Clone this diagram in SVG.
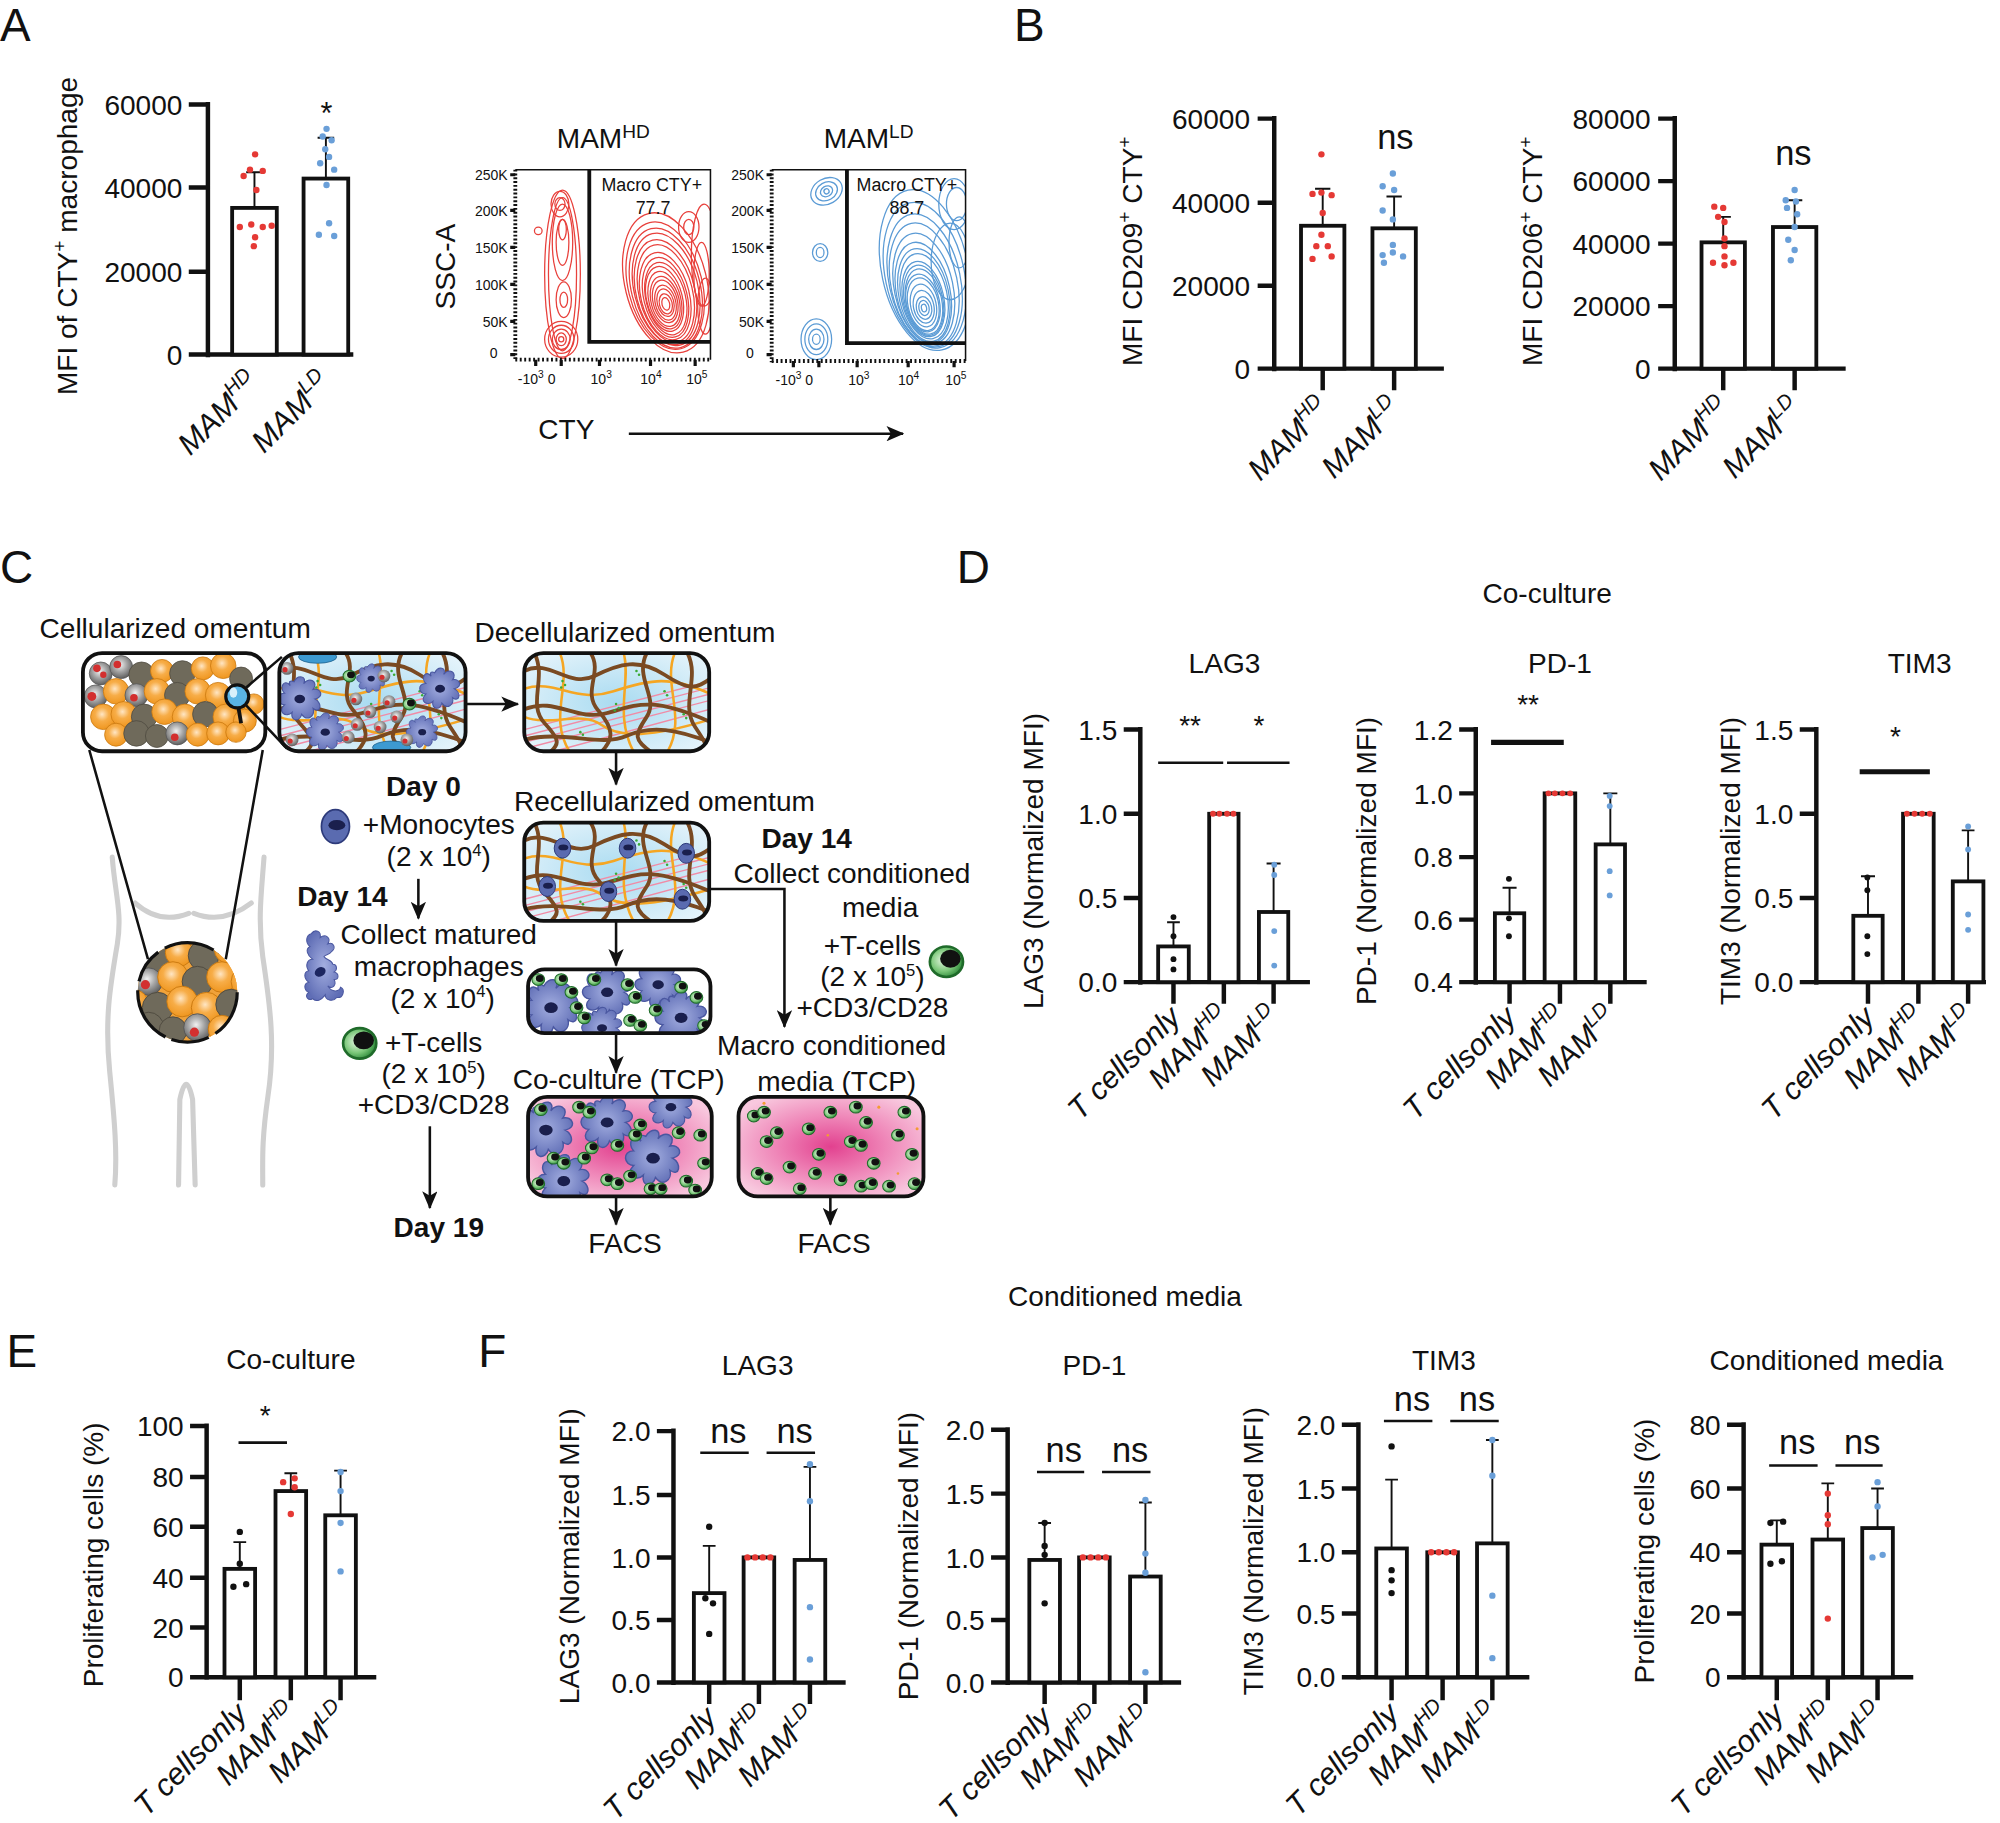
<svg xmlns="http://www.w3.org/2000/svg" width="2000" height="1823" viewBox="0 0 2000 1823">
<style>
.t{font-family:"Liberation Sans",Arial,Helvetica,sans-serif;fill:#111}
.L{font-size:36px}
.n{font-size:22px}
.tk{font-size:22px;text-anchor:end}
.c{text-anchor:middle}
.xl{font-size:24px;font-style:italic;text-anchor:end}
.ns{font-size:27px;text-anchor:middle}
.bd{font-weight:bold}
.fl{font-size:11px;text-anchor:end}
.fx{font-size:11px}
.ax{stroke:#111;stroke-width:3.5;fill:none}
.bar{fill:#fff;stroke:#111;stroke-width:3}
.er{stroke:#111;stroke-width:1.5;fill:none}
.sg{stroke:#111;stroke-width:2}
.sgb{stroke:#111;stroke-width:4}
.r{fill:#e53935}.b{fill:#6a9fd8}.k{fill:#111}
.box{fill:none;stroke:#111;stroke-width:3}
.cn{stroke:#111;stroke-width:2;fill:none}
.rc ellipse,.rc circle{fill:none;stroke:#e8413c;stroke-width:1}
.bc ellipse,.bc circle{fill:none;stroke:#5b9bd5;stroke-width:1}
.body{fill:none;stroke:#cfcfcf;stroke-width:4;stroke-linecap:round}
.fo{fill:url(#gO);stroke:#c9780f;stroke-width:0.6}.fd{fill:#6f6a5b;stroke:#4e4a3f;stroke-width:0.6}.fs{fill:url(#gS);stroke:#555;stroke-width:0.6}
</style>
<defs>
<marker id="ah" markerWidth="14" markerHeight="12" refX="13" refY="6" orient="auto" markerUnits="userSpaceOnUse"><path d="M0,0 L14,6 L0,12 L3.5,6 Z" fill="#111"/></marker>
<radialGradient id="gO" cx="45%" cy="40%" r="60%"><stop offset="0" stop-color="#ffe6c4"/><stop offset="0.45" stop-color="#f7ad48"/><stop offset="1" stop-color="#ef961f"/></radialGradient>
<radialGradient id="gS" cx="45%" cy="40%" r="60%"><stop offset="0" stop-color="#f2f2f2"/><stop offset="0.5" stop-color="#a5a5a5"/><stop offset="1" stop-color="#5f5f5f"/></radialGradient>
<radialGradient id="gG" cx="40%" cy="45%" r="60%"><stop offset="0" stop-color="#e4f5e0"/><stop offset="0.6" stop-color="#7cc87a"/><stop offset="1" stop-color="#2e8b3a"/></radialGradient>
<radialGradient id="gB" cx="50%" cy="50%" r="65%"><stop offset="0" stop-color="#a9dbf1"/><stop offset="1" stop-color="#e6f4fb"/></radialGradient>
<radialGradient id="gP" cx="50%" cy="50%" r="60%"><stop offset="0" stop-color="#e2418f"/><stop offset="0.5" stop-color="#ef86b8"/><stop offset="1" stop-color="#f8c8de"/></radialGradient>
<radialGradient id="gM" cx="50%" cy="50%" r="55%"><stop offset="0" stop-color="#a3aee0"/><stop offset="1" stop-color="#5f6db5"/></radialGradient>
<g id="tc"><ellipse rx="5" ry="4.6" fill="url(#gG)" stroke="#1f6b2a" stroke-width="0.8"/><ellipse cx="1.2" cy="-0.9" rx="3.1" ry="2.7" fill="#111"/></g>
<g id="mono"><ellipse rx="5" ry="6" fill="#5a6bb0" stroke="#2d3a7a" stroke-width="0.6"/><ellipse cx="0.5" cy="-0.5" rx="3" ry="1.8" fill="#1a1f4d"/></g>
<g id="mac"><path d="M-3,-9 C-1,-13 4,-12 2,-8 C5,-12 10,-9 7,-5 C11,-6 13,-1 8,0 C12,2 11,8 7,5 C8,9 4,12 1,8 C0,12 -5,12 -4,7 C-7,10 -12,7 -8,3 C-12,3 -13,-3 -8,-3 C-11,-6 -8,-11 -5,-7 C-6,-9 -5,-10 -3,-9 Z" fill="url(#gM)" stroke="#4a57a0" stroke-width="0.6"/><ellipse rx="2.8" ry="2.2" fill="#1a1f4d"/></g>
<g id="rcell"><circle r="5" fill="url(#gS)"/><circle cx="-1.5" cy="1" r="2" fill="#d32f2f"/></g>
<g id="fat">
<circle cx="14" cy="16" r="9" class="fs"/><circle cx="30" cy="11" r="9" class="fs"/><circle cx="46" cy="17" r="10" class="fd"/><circle cx="62" cy="14" r="9" class="fo"/><circle cx="78" cy="16" r="10" class="fd"/><circle cx="94" cy="12" r="9" class="fo"/><circle cx="110" cy="10" r="10" class="fo"/><circle cx="124" cy="20" r="9" class="fd"/>
<circle cx="10" cy="34" r="9" class="fs"/><circle cx="26" cy="30" r="10" class="fo"/><circle cx="42" cy="33" r="9" class="fs"/><circle cx="58" cy="30" r="10" class="fo"/><circle cx="74" cy="33" r="10" class="fd"/><circle cx="90" cy="30" r="10" class="fo"/><circle cx="106" cy="33" r="10" class="fo"/><circle cx="122" cy="36" r="9" class="fo"/><circle cx="134" cy="40" r="8" class="fo"/>
<circle cx="16" cy="50" r="10" class="fo"/><circle cx="32" cy="48" r="10" class="fo"/><circle cx="48" cy="50" r="10" class="fd"/><circle cx="64" cy="46" r="10" class="fo"/><circle cx="80" cy="50" r="10" class="fo"/><circle cx="96" cy="48" r="10" class="fd"/><circle cx="112" cy="50" r="10" class="fo"/><circle cx="127" cy="53" r="9" class="fo"/>
<circle cx="26" cy="64" r="9" class="fo"/><circle cx="42" cy="63" r="10" class="fd"/><circle cx="58" cy="65" r="9" class="fd"/><circle cx="74" cy="63" r="9" class="fs"/><circle cx="90" cy="64" r="9" class="fo"/><circle cx="106" cy="63" r="9" class="fo"/><circle cx="120" cy="62" r="8" class="fo"/>
<g fill="#d32f2f"><circle cx="11" cy="12" r="3"/><circle cx="27" cy="9" r="3"/><circle cx="7" cy="34" r="3.5"/><circle cx="40" cy="35" r="3"/><circle cx="72" cy="66" r="3"/><circle cx="16" cy="17" r="2.5"/></g>
</g>
<g id="ecm">
<rect width="146" height="78" fill="url(#gB)"/>
<path d="M0,60 L146,22 M0,65 L146,27 M0,70 L146,32 M0,75 L146,37 M20,78 L146,44" stroke="#f08ca6" stroke-width="1.1" fill="none"/>
<g stroke="#f5a623" stroke-width="2" fill="none">
<path d="M0,28 C25,20 40,40 70,30 S115,18 146,32"/><path d="M28,0 C38,25 18,50 36,78"/><path d="M78,0 C84,22 70,48 86,78"/><path d="M118,0 C108,25 128,50 112,78"/><path d="M0,50 C20,58 45,45 60,56 S100,66 146,52"/>
</g>
<g stroke="#7a4a22" stroke-width="3" fill="none" stroke-linecap="round">
<path d="M0,14 C20,4 35,28 55,18 S90,4 110,17 S135,28 146,20"/><path d="M8,0 C18,20 2,40 16,55 S26,72 20,78"/><path d="M52,0 C62,15 45,30 58,45 S70,68 60,78"/><path d="M96,0 C86,20 106,35 96,50 S86,68 100,78"/><path d="M128,0 C138,20 122,40 134,58 S142,70 136,78"/><path d="M0,44 C25,34 40,54 65,47 S100,34 146,54"/><path d="M0,68 C30,60 60,74 80,65 S120,60 146,70"/>
</g>
<g fill="#3aaa35"><circle cx="30" cy="22" r="1"/><circle cx="32" cy="25" r="1"/><circle cx="29" cy="27" r="1"/><circle cx="72" cy="40" r="1"/><circle cx="74" cy="43" r="1"/><circle cx="71" cy="45" r="1"/><circle cx="110" cy="30" r="1"/><circle cx="112" cy="33" r="1"/><circle cx="44" cy="62" r="1"/><circle cx="46" cy="64" r="1"/><circle cx="125" cy="48" r="1"/><circle cx="127" cy="51" r="1"/><circle cx="88" cy="14" r="1"/><circle cx="90" cy="17" r="1"/></g>
</g>
<clipPath id="cpF1"><rect x="404" y="133" width="153" height="149"/></clipPath>
<clipPath id="cpF2"><rect x="605" y="133" width="152" height="150"/></clipPath>
<clipPath id="cpOm"><rect x="65" y="512" width="143" height="77" rx="15"/></clipPath>
<clipPath id="cpBody"><circle cx="147" cy="778" r="39"/></clipPath>
<clipPath id="cpDet"><rect x="219" y="512" width="146" height="77" rx="15"/></clipPath>
<clipPath id="cpDec"><rect x="411" y="512" width="145" height="77" rx="15"/></clipPath>
<clipPath id="cpRec"><rect x="411" y="645" width="145" height="77" rx="15"/></clipPath>
<clipPath id="cpMT"><rect x="414" y="760" width="143" height="50" rx="13"/></clipPath>
<clipPath id="cpCo"><rect x="414" y="860" width="144" height="78" rx="15"/></clipPath>
<clipPath id="cpCM"><rect x="579" y="860" width="145" height="78" rx="15"/></clipPath>
</defs>
<rect width="2000" height="1823" fill="#fff"/>
<g transform="scale(1.27551)">

<!-- PANEL A -->
<g id="panelA">
<text class="t L" x="0" y="32">A</text>
<g id="A-bar">
<text class="t n c" transform="translate(60,185) rotate(-90)">MFI of CTY<tspan font-size="15" dy="-8">+</tspan><tspan dy="8"> macrophage</tspan></text>
<path class="ax" d="M163,80 V280 M148,82 H163 M148,147 H163 M148,213 H163 M148,278 H163 M161,278 H277"/>
<text class="t tk" x="143" y="90">60000</text><text class="t tk" x="143" y="155">40000</text><text class="t tk" x="143" y="221">20000</text><text class="t tk" x="143" y="286">0</text>
<rect class="bar" x="182" y="163" width="35" height="115"/><rect class="bar" x="238" y="140" width="35" height="138"/>
<path class="er" d="M199.5,163 V135 M193,135 H206 M255.5,140 V108 M249,108 H262"/>
<text class="t c" x="256" y="97" font-size="24">*</text>
<g class="r"><circle cx="200" cy="121" r="2.5"/><circle cx="196" cy="133" r="2.5"/><circle cx="206" cy="134" r="2.5"/><circle cx="191" cy="138" r="2.5"/><circle cx="201" cy="149" r="2.5"/><circle cx="188" cy="178" r="2.5"/><circle cx="197" cy="176" r="2.5"/><circle cx="206" cy="178" r="2.5"/><circle cx="213" cy="177" r="2.5"/><circle cx="200" cy="186" r="2.5"/><circle cx="199" cy="193" r="2.5"/></g>
<g class="b"><circle cx="256" cy="101" r="2.5"/><circle cx="253" cy="107" r="2.5"/><circle cx="260" cy="110" r="2.5"/><circle cx="255" cy="117" r="2.5"/><circle cx="258" cy="123" r="2.5"/><circle cx="251" cy="128" r="2.5"/><circle cx="262" cy="133" r="2.5"/><circle cx="256" cy="145" r="2.5"/><circle cx="258" cy="175" r="2.5"/><circle cx="250" cy="184" r="2.5"/><circle cx="262" cy="185" r="2.5"/></g>
<text class="t xl" transform="translate(205,302) rotate(-45)">MAM<tspan font-size="16" dy="-10">HD</tspan></text>
<text class="t xl" transform="translate(261,302) rotate(-45)">MAM<tspan font-size="16" dy="-10">LD</tspan></text>
</g>
<g id="A-flow-HD">
<text class="t c" x="473" y="116" font-size="22">MAM<tspan font-size="15" dy="-8">HD</tspan></text>
<g clip-path="url(#cpF1)">
<g class="rc">
<ellipse cx="441" cy="215" rx="14" ry="66"/><ellipse cx="441" cy="215" rx="11" ry="60"/><ellipse cx="441" cy="190" rx="8" ry="30"/><ellipse cx="441" cy="190" rx="5" ry="18"/><ellipse cx="441" cy="180" rx="3" ry="8"/><ellipse cx="442" cy="235" rx="6" ry="14"/><ellipse cx="442" cy="235" rx="3" ry="6"/><ellipse cx="440" cy="266" rx="13" ry="14"/><ellipse cx="440" cy="266" rx="10" ry="11"/><ellipse cx="440" cy="266" rx="7" ry="8"/><ellipse cx="440" cy="266" rx="4" ry="5"/><ellipse cx="440" cy="266" rx="2" ry="2"/><ellipse cx="439" cy="160" rx="7" ry="10"/><ellipse cx="439" cy="160" rx="4" ry="5"/><circle cx="422" cy="181" r="3"/>
<g transform="rotate(-14 522 230)">
<ellipse cx="524" cy="222" rx="32" ry="56"/><ellipse cx="523" cy="224" rx="29" ry="51"/><ellipse cx="523" cy="226" rx="27" ry="48"/><ellipse cx="523" cy="227" rx="25" ry="45"/><ellipse cx="522" cy="229" rx="23" ry="42"/><ellipse cx="522" cy="230" rx="21" ry="39"/><ellipse cx="521" cy="232" rx="19" ry="35"/><ellipse cx="521" cy="233" rx="17" ry="32"/><ellipse cx="521" cy="234" rx="15.5" ry="29"/><ellipse cx="520" cy="234" rx="14" ry="26"/><ellipse cx="520" cy="235" rx="12.5" ry="23"/><ellipse cx="520" cy="236" rx="11" ry="20"/><ellipse cx="520" cy="236" rx="9.5" ry="17"/><ellipse cx="520" cy="237" rx="8" ry="14"/><ellipse cx="520" cy="237" rx="6.5" ry="11"/><ellipse cx="520" cy="238" rx="5" ry="8"/><ellipse cx="520" cy="238" rx="3" ry="5"/>
</g>
<ellipse cx="552" cy="200" rx="10" ry="40"/><ellipse cx="550" cy="215" rx="6" ry="25"/><ellipse cx="540" cy="178" rx="8" ry="12"/><ellipse cx="540" cy="178" rx="4" ry="6"/><ellipse cx="553" cy="240" rx="6" ry="22"/>
</g>
</g>
<path d="M404,133 H557 V282" stroke="#111" stroke-width="1.2" fill="none"/>
<line x1="404" y1="133" x2="404" y2="283" stroke="#111" stroke-width="3" stroke-dasharray="1.5 1.5"/>
<line x1="404" y1="282" x2="557" y2="282" stroke="#111" stroke-width="3" stroke-dasharray="1.5 2"/>
<path d="M400,137 H404 M400,165 H404 M400,194 H404 M400,223 H404 M400,252 H404 M400,278 H404 M420,282 V287 M440,282 V287 M470,282 V287 M510,282 V287 M545,282 V287" stroke="#111" stroke-width="2.5"/>
<path d="M462,133 V268 H557" stroke="#111" stroke-width="3" fill="none"/>
<text class="t fl" x="398" y="141">250K</text><text class="t fl" x="398" y="169">200K</text><text class="t fl" x="398" y="198">150K</text><text class="t fl" x="398" y="227">100K</text><text class="t fl" x="398" y="256">50K</text><text class="t fl" x="390" y="281">0</text>
<text class="t fx" x="406" y="301">-10<tspan font-size="8" dy="-5">3</tspan><tspan dy="5"> 0</tspan></text>
<text class="t fx" x="463" y="301">10<tspan font-size="8" dy="-5">3</tspan></text>
<text class="t fx" x="502" y="301">10<tspan font-size="8" dy="-5">4</tspan></text>
<text class="t fx" x="538" y="301">10<tspan font-size="8" dy="-5">5</tspan></text>
<text class="t c" x="511" y="150" font-size="14">Macro CTY+</text>
<text class="t c" x="512" y="168" font-size="14">77.7</text>
</g>
<g id="A-flow-LD">
<text class="t c" x="681" y="116" font-size="22">MAM<tspan font-size="15" dy="-8">LD</tspan></text>
<g clip-path="url(#cpF2)">
<g class="bc">
<g transform="rotate(-30 648 150)"><ellipse cx="648" cy="150" rx="13" ry="10"/><ellipse cx="648" cy="150" rx="9" ry="7"/><ellipse cx="648" cy="150" rx="5" ry="4"/><ellipse cx="648" cy="150" rx="2" ry="2"/></g>
<ellipse cx="643" cy="198" rx="6" ry="7"/><ellipse cx="643" cy="198" rx="3" ry="4"/>
<ellipse cx="640" cy="266" rx="12" ry="16"/><ellipse cx="640" cy="266" rx="9" ry="12"/><ellipse cx="640" cy="266" rx="6" ry="8"/><ellipse cx="640" cy="266" rx="3" ry="4"/>
<g transform="rotate(-12 725 225)">
<ellipse cx="728" cy="212" rx="34" ry="64"/><ellipse cx="727" cy="216" rx="31" ry="58"/><ellipse cx="726" cy="220" rx="28" ry="53"/><ellipse cx="725" cy="223" rx="26" ry="49"/><ellipse cx="724" cy="226" rx="23" ry="44"/><ellipse cx="723" cy="229" rx="21" ry="40"/><ellipse cx="723" cy="231" rx="19.5" ry="37"/><ellipse cx="723" cy="232" rx="18" ry="34"/><ellipse cx="722" cy="234" rx="16" ry="30"/><ellipse cx="722" cy="235" rx="15" ry="28"/><ellipse cx="722" cy="236" rx="14" ry="26"/><ellipse cx="721" cy="237" rx="13" ry="23"/><ellipse cx="721" cy="238" rx="12" ry="21"/><ellipse cx="721" cy="239" rx="10" ry="17"/><ellipse cx="721" cy="240" rx="8" ry="13"/><ellipse cx="721" cy="241" rx="6" ry="9"/><ellipse cx="721" cy="241" rx="4" ry="6"/><ellipse cx="721" cy="241" rx="2" ry="3"/>
</g>
<ellipse cx="748" cy="160" rx="12" ry="20"/><ellipse cx="750" cy="160" rx="8" ry="13"/><ellipse cx="752" cy="190" rx="8" ry="20"/><ellipse cx="745" cy="205" rx="15" ry="30"/>
</g>
</g>
<path d="M605,133 H757 V283" stroke="#111" stroke-width="1.2" fill="none"/>
<line x1="605" y1="133" x2="605" y2="284" stroke="#111" stroke-width="3" stroke-dasharray="1.5 1.5"/>
<line x1="605" y1="283" x2="757" y2="283" stroke="#111" stroke-width="3" stroke-dasharray="1.5 2"/>
<path d="M601,137 H605 M601,165 H605 M601,194 H605 M601,223 H605 M601,252 H605 M601,278 H605 M622,283 V288 M642,283 V288 M672,283 V288 M712,283 V288 M748,283 V288" stroke="#111" stroke-width="2.5"/>
<path d="M664,133 V269 H757" stroke="#111" stroke-width="3" fill="none"/>
<text class="t fl" x="599" y="141">250K</text><text class="t fl" x="599" y="169">200K</text><text class="t fl" x="599" y="198">150K</text><text class="t fl" x="599" y="227">100K</text><text class="t fl" x="599" y="256">50K</text><text class="t fl" x="591" y="281">0</text>
<text class="t fx" x="608" y="302">-10<tspan font-size="8" dy="-5">3</tspan><tspan dy="5"> 0</tspan></text>
<text class="t fx" x="665" y="302">10<tspan font-size="8" dy="-5">3</tspan></text>
<text class="t fx" x="704" y="302">10<tspan font-size="8" dy="-5">4</tspan></text>
<text class="t fx" x="741" y="302">10<tspan font-size="8" dy="-5">5</tspan></text>
<text class="t c" x="711" y="150" font-size="14">Macro CTY+</text>
<text class="t c" x="711" y="168" font-size="14">88.7</text>
</g>
<text class="t c" transform="translate(357,209) rotate(-90)" font-size="22">SSC-A</text>
<text class="t" x="422" y="344" font-size="22">CTY</text>
<line class="cn" x1="493" y1="340" x2="708" y2="340" marker-end="url(#ah)"/>
</g>

<!-- PANEL B -->
<g id="panelB">
<text class="t L" x="795" y="32">B</text>
<g id="B-CD209">
<text class="t n c" transform="translate(895,197) rotate(-90)">MFI CD209<tspan font-size="15" dy="-8">+</tspan><tspan dy="8"> CTY</tspan><tspan font-size="15" dy="-8">+</tspan></text>
<path class="ax" d="M999,91 V291 M986,93 H999 M986,159 H999 M986,224 H999 M986,289 H999 M997,289 H1132 M1037,289 V306 M1093,289 V306"/>
<text class="t tk" x="980" y="101">60000</text><text class="t tk" x="980" y="167">40000</text><text class="t tk" x="980" y="232">20000</text><text class="t tk" x="980" y="297">0</text>
<rect class="bar" x="1020" y="177" width="34" height="112"/><rect class="bar" x="1076" y="179" width="34" height="110"/>
<path class="er" d="M1037,177 V148 M1031,148 H1043 M1093,179 V154 M1087,154 H1099"/>
<text class="t ns" x="1094" y="117">ns</text>
<g class="r"><circle cx="1036" cy="121" r="2.5"/><circle cx="1029" cy="152" r="2.5"/><circle cx="1036" cy="151" r="2.5"/><circle cx="1044" cy="153" r="2.5"/><circle cx="1037" cy="167" r="2.5"/><circle cx="1036" cy="184" r="2.5"/><circle cx="1032" cy="193" r="2.5"/><circle cx="1041" cy="193" r="2.5"/><circle cx="1029" cy="203" r="2.5"/><circle cx="1044" cy="201" r="2.5"/></g>
<g class="b"><circle cx="1092" cy="136" r="2.5"/><circle cx="1084" cy="146" r="2.5"/><circle cx="1093" cy="149" r="2.5"/><circle cx="1084" cy="165" r="2.5"/><circle cx="1092" cy="172" r="2.5"/><circle cx="1092" cy="192" r="2.5"/><circle cx="1084" cy="200" r="2.5"/><circle cx="1092" cy="198" r="2.5"/><circle cx="1100" cy="201" r="2.5"/><circle cx="1085" cy="206" r="2.5"/></g>
<text class="t xl" transform="translate(1044,322) rotate(-45)">MAM<tspan font-size="16" dy="-10">HD</tspan></text>
<text class="t xl" transform="translate(1100,322) rotate(-45)">MAM<tspan font-size="16" dy="-10">LD</tspan></text>
</g>
<g id="B-CD206">
<text class="t n c" transform="translate(1209,197) rotate(-90)">MFI CD206<tspan font-size="15" dy="-8">+</tspan><tspan dy="8"> CTY</tspan><tspan font-size="15" dy="-8">+</tspan></text>
<path class="ax" d="M1313,91 V291 M1300,93 H1313 M1300,142 H1313 M1300,191 H1313 M1300,240 H1313 M1300,289 H1313 M1311,289 H1447 M1351,289 V306 M1407,289 V306"/>
<text class="t tk" x="1294" y="101">80000</text><text class="t tk" x="1294" y="150">60000</text><text class="t tk" x="1294" y="199">40000</text><text class="t tk" x="1294" y="248">20000</text><text class="t tk" x="1294" y="297">0</text>
<rect class="bar" x="1334" y="190" width="34" height="99"/><rect class="bar" x="1390" y="178" width="34" height="111"/>
<path class="er" d="M1351,190 V170 M1345,170 H1357 M1407,178 V157 M1401,157 H1413"/>
<text class="t ns" x="1406" y="129">ns</text>
<g class="r"><circle cx="1344" cy="162" r="2.5"/><circle cx="1351" cy="163" r="2.5"/><circle cx="1347" cy="170" r="2.5"/><circle cx="1352" cy="174" r="2.5"/><circle cx="1352" cy="187" r="2.5"/><circle cx="1352" cy="193" r="2.5"/><circle cx="1352" cy="201" r="2.5"/><circle cx="1343" cy="206" r="2.5"/><circle cx="1352" cy="208" r="2.5"/><circle cx="1359" cy="206" r="2.5"/></g>
<g class="b"><circle cx="1407" cy="149" r="2.5"/><circle cx="1400" cy="157" r="2.5"/><circle cx="1408" cy="158" r="2.5"/><circle cx="1401" cy="163" r="2.5"/><circle cx="1409" cy="168" r="2.5"/><circle cx="1407" cy="178" r="2.5"/><circle cx="1402" cy="188" r="2.5"/><circle cx="1407" cy="196" r="2.5"/><circle cx="1404" cy="204" r="2.5"/></g>
<text class="t xl" transform="translate(1358,322) rotate(-45)">MAM<tspan font-size="16" dy="-10">HD</tspan></text>
<text class="t xl" transform="translate(1414,322) rotate(-45)">MAM<tspan font-size="16" dy="-10">LD</tspan></text>
</g>
</g>

<!-- PANEL C -->
<g id="panelC">
<text class="t L" x="0" y="457">C</text>
<g id="C-body">
<path class="body" d="M88,672 C90,700 96,715 92,740 C86,775 82,800 86,840 C90,880 92,905 90,929"/>
<path class="body" d="M207,672 C205,700 202,720 206,750 C212,790 216,820 210,860 C205,895 206,910 206,929"/>
<path class="body" d="M106,708 Q125,725 148,716 M152,716 Q175,725 197,708"/>
<path class="body" d="M140,929 L141,862 Q146,838 151,862 L153,929"/>
<g clip-path="url(#cpBody)"><rect x="100" y="730" width="95" height="95" fill="#f0a23a"/><use href="#fat" transform="translate(66,730) scale(1.2)"/></g>
<circle cx="147" cy="778" r="39" fill="none" stroke="#111" stroke-width="2.5" stroke-dasharray="38 6 30 5 45 7 28 6 40 40"/>
<path d="M70,588 L116,752 M206,588 L177,752" stroke="#111" stroke-width="2" fill="none"/>
</g>
<g id="C-omentum">
<text class="t n" x="31" y="500">Cellularized omentum</text>
<rect x="65" y="512" width="143" height="77" rx="15" fill="#fff"/>
<g clip-path="url(#cpOm)"><use href="#fat" transform="translate(65,512)"/></g>
<rect class="box" x="65" y="512" width="143" height="77" rx="15"/>
<path d="M193,539 L221,515 M193,553 L225,587" stroke="#111" stroke-width="2" fill="none"/>
<line x1="187" y1="555" x2="189" y2="567" stroke="#111" stroke-width="3"/>
<circle cx="186" cy="546" r="9" fill="#5ab4e5" stroke="#111" stroke-width="2.5"/>
<ellipse cx="183" cy="543" rx="3" ry="4" fill="#d9f0fb"/>
</g>
<g id="C-detail">
<g clip-path="url(#cpDet)"><g transform="translate(219,512)">
<use href="#ecm"/>
<ellipse cx="30" cy="3" rx="15" ry="5" fill="#3d9ad1" stroke="#1d5f8a" stroke-width="0.6"/>
<ellipse cx="88" cy="74" rx="15" ry="5" fill="#3d9ad1" stroke="#1d5f8a" stroke-width="0.6"/>
<use href="#mac" transform="translate(16,36) scale(1.5)"/><use href="#mac" transform="translate(36,62) scale(1.3)"/><use href="#mac" transform="translate(72,20) scale(1)"/><use href="#mac" transform="translate(126,28) scale(1.4)"/><use href="#mac" transform="translate(112,62) scale(1.1)"/>
<use href="#rcell" transform="translate(60,36)"/><use href="#rcell" transform="translate(71,46)"/><use href="#rcell" transform="translate(61,56)"/><use href="#rcell" transform="translate(79,58)"/><use href="#rcell" transform="translate(86,38)"/><use href="#rcell" transform="translate(54,66)"/><use href="#rcell" transform="translate(92,50)"/><use href="#rcell" transform="translate(100,68)"/><use href="#rcell" transform="translate(10,68)"/><use href="#rcell" transform="translate(82,18)"/><use href="#rcell" transform="translate(6,12)"/>
<use href="#tc" transform="translate(55,18)"/><use href="#tc" transform="translate(102,40)"/>
</g></g>
<rect class="box" x="219" y="512" width="146" height="77" rx="15"/>
</g>
<g id="C-decell">
<text class="t n" x="372" y="503">Decellularized omentum</text>
<g clip-path="url(#cpDec)"><use href="#ecm" transform="translate(411,512)"/></g>
<rect class="box" x="411" y="512" width="145" height="77" rx="15"/>
</g>
<g id="C-recell">
<text class="t n" x="403" y="636">Recellularized omentum</text>
<g clip-path="url(#cpRec)"><g transform="translate(411,645)">
<use href="#ecm"/>
<use href="#mono" transform="translate(30,20) scale(1.3)"/><use href="#mono" transform="translate(81,20) scale(1.3)"/><use href="#mono" transform="translate(127,24) scale(1.3)"/><use href="#mono" transform="translate(18,50) scale(1.3)"/><use href="#mono" transform="translate(66,54) scale(1.3)"/><use href="#mono" transform="translate(124,60) scale(1.3)"/>
</g></g>
<rect class="box" x="411" y="645" width="145" height="77" rx="15"/>
</g>
<g id="C-macT">
<g clip-path="url(#cpMT)"><g transform="translate(414,760)">
<rect width="143" height="50" fill="#fff"/>
<use href="#mac" transform="translate(18,30) scale(1.9)"/><use href="#mac" transform="translate(62,18) scale(1.7)"/><use href="#mac" transform="translate(102,12) scale(1.6)"/><use href="#mac" transform="translate(120,38) scale(1.8)"/><use href="#mac" transform="translate(58,46) scale(1.4)"/>
<use href="#tc" transform="translate(8,8)"/><use href="#tc" transform="translate(38,30)"/><use href="#tc" transform="translate(44,38)"/><use href="#tc" transform="translate(52,8)"/><use href="#tc" transform="translate(78,12)"/><use href="#tc" transform="translate(84,22)"/><use href="#tc" transform="translate(80,40)"/><use href="#tc" transform="translate(88,44)"/><use href="#tc" transform="translate(120,14)"/><use href="#tc" transform="translate(132,22)"/><use href="#tc" transform="translate(100,32)"/><use href="#tc" transform="translate(138,44)"/><use href="#tc" transform="translate(26,8)"/><use href="#tc" transform="translate(34,18)"/>
</g></g>
<rect class="box" x="414" y="760" width="143" height="50" rx="13"/>
</g>
<g id="C-coculture">
<text class="t n c" x="485" y="854">Co-culture (TCP)</text>
<g clip-path="url(#cpCo)"><g transform="translate(414,860)">
<rect width="144" height="78" fill="url(#gP)"/>
<use href="#mac" transform="translate(14,26) scale(1.9)"/><use href="#mac" transform="translate(62,20) scale(1.8)"/><use href="#mac" transform="translate(28,66) scale(1.8)"/><use href="#mac" transform="translate(98,48) scale(1.9)"/><use href="#mac" transform="translate(112,8) scale(1.5)"/>
<use href="#tc" transform="translate(10,10)"/><use href="#tc" transform="translate(20,48)"/><use href="#tc" transform="translate(28,52)"/><use href="#tc" transform="translate(50,40)"/><use href="#tc" transform="translate(44,48)"/><use href="#tc" transform="translate(70,38)"/><use href="#tc" transform="translate(62,65)"/><use href="#tc" transform="translate(70,68)"/><use href="#tc" transform="translate(88,22)"/><use href="#tc" transform="translate(84,30)"/><use href="#tc" transform="translate(80,62)"/><use href="#tc" transform="translate(118,28)"/><use href="#tc" transform="translate(135,30)"/><use href="#tc" transform="translate(138,52)"/><use href="#tc" transform="translate(40,8)"/><use href="#tc" transform="translate(48,12)"/><use href="#tc" transform="translate(96,72)"/><use href="#tc" transform="translate(104,72)"/><use href="#tc" transform="translate(131,73)"/><use href="#tc" transform="translate(124,66)"/><use href="#tc" transform="translate(8,68)"/>
</g></g>
<rect class="box" x="414" y="860" width="144" height="78" rx="15"/>
<text class="t n c" x="490" y="982">FACS</text>
</g>
<g id="C-condmedia">
<text class="t n c" x="652" y="827">Macro conditioned</text>
<text class="t n c" x="656" y="855">media (TCP)</text>
<g clip-path="url(#cpCM)"><g transform="translate(579,860)">
<rect width="145" height="78" fill="url(#gP)"/>
<g fill="#f39c33"><circle cx="20" cy="5" r="1.2"/><circle cx="110" cy="8" r="1.2"/><circle cx="140" cy="25" r="1.2"/><circle cx="70" cy="30" r="1"/><circle cx="125" cy="60" r="1"/></g>
<use href="#tc" transform="translate(12,15)"/><use href="#tc" transform="translate(20,12)"/><use href="#tc" transform="translate(22,35)"/><use href="#tc" transform="translate(40,55)"/><use href="#tc" transform="translate(15,60)"/><use href="#tc" transform="translate(22,64)"/><use href="#tc" transform="translate(55,25)"/><use href="#tc" transform="translate(63,45)"/><use href="#tc" transform="translate(72,12)"/><use href="#tc" transform="translate(80,65)"/><use href="#tc" transform="translate(88,35)"/><use href="#tc" transform="translate(96,38)"/><use href="#tc" transform="translate(100,20)"/><use href="#tc" transform="translate(106,52)"/><use href="#tc" transform="translate(118,70)"/><use href="#tc" transform="translate(125,30)"/><use href="#tc" transform="translate(136,45)"/><use href="#tc" transform="translate(130,12)"/><use href="#tc" transform="translate(48,72)"/><use href="#tc" transform="translate(92,8)"/><use href="#tc" transform="translate(138,68)"/><use href="#tc" transform="translate(60,60)"/><use href="#tc" transform="translate(30,28)"/><use href="#tc" transform="translate(96,70)"/><use href="#tc" transform="translate(104,68)"/>
</g></g>
<rect class="box" x="579" y="860" width="145" height="78" rx="15"/>
<text class="t n c" x="654" y="982">FACS</text>
</g>
<g id="C-steps-left">
<text class="t n bd c" x="332" y="624">Day 0</text>
<use href="#mono" transform="translate(263,648) scale(2.2)"/>
<text class="t n c" x="344" y="654">+Monocytes</text>
<text class="t n c" x="344" y="679">(2 x 10<tspan font-size="13" dy="-8">4</tspan><tspan dy="8">)</tspan></text>
<text class="t n bd" x="233" y="710">Day 14</text>
<g transform="translate(252,760)">
<path d="M-8,-28 C-5,-32 0,-30 -1,-25 C3,-28 8,-25 5,-20 C9,-22 12,-17 8,-14 C6,-11 3,-12 2,-10 C4,-7 8,-8 9,-4 C12,-4 13,0 10,2 C14,3 14,8 10,8 C12,12 9,16 5,13 C8,18 14,18 15,14 C19,16 17,23 12,22 C9,26 3,24 3,20 C0,24 -4,26 -7,23 C-10,25 -14,21 -10,18 C-14,16 -14,11 -10,10 C-14,7 -14,2 -10,1 C-13,-3 -11,-8 -7,-8 C-11,-11 -13,-16 -9,-18 C-13,-21 -12,-27 -8,-28 Z" fill="url(#gM)" stroke="#4a57a0" stroke-width="0.8"/>
<ellipse cx="-1" cy="2" rx="4.5" ry="3.5" fill="#1d2660" transform="rotate(-30 -1 2)"/>
</g>
<text class="t n c" x="344" y="740">Collect matured</text>
<text class="t n c" x="344" y="765">macrophages</text>
<text class="t n c" x="347" y="790">(2 x 10<tspan font-size="13" dy="-8">4</tspan><tspan dy="8">)</tspan></text>
<use href="#tc" transform="translate(282,818) scale(2.6)"/>
<text class="t n c" x="340" y="825">+T-cells</text>
<text class="t n c" x="340" y="849">(2 x 10<tspan font-size="13" dy="-8">5</tspan><tspan dy="8">)</tspan></text>
<text class="t n c" x="340" y="873">+CD3/CD28</text>
<text class="t n bd c" x="344" y="970">Day 19</text>
</g>
<g id="C-steps-right">
<text class="t n bd" x="597" y="665">Day 14</text>
<text class="t n" x="575" y="692">Collect conditioned</text>
<text class="t n c" x="690" y="719">media</text>
<text class="t n c" x="684" y="749">+T-cells</text>
<text class="t n c" x="684" y="773">(2 x 10<tspan font-size="13" dy="-8">5</tspan><tspan dy="8">)</tspan></text>
<text class="t n c" x="684" y="797">+CD3/CD28</text>
<use href="#tc" transform="translate(742,754) scale(2.6)"/>
</g>
<g id="C-connectors">
<line class="cn" x1="365" y1="552" x2="406" y2="552" marker-end="url(#ah)"/>
<line class="cn" x1="483" y1="589" x2="483" y2="615" marker-end="url(#ah)"/>
<line class="cn" x1="483" y1="722" x2="483" y2="757" marker-end="url(#ah)"/>
<line class="cn" x1="483" y1="810" x2="483" y2="841" marker-end="url(#ah)"/>
<line class="cn" x1="483" y1="938" x2="483" y2="960" marker-end="url(#ah)"/>
<line class="cn" x1="651" y1="938" x2="651" y2="960" marker-end="url(#ah)"/>
<polyline class="cn" points="556,697 615,697 615,805" marker-end="url(#ah)"/>
<line class="cn" x1="328" y1="689" x2="328" y2="720" marker-end="url(#ah)"/>
<line class="cn" x1="337" y1="883" x2="337" y2="947" marker-end="url(#ah)"/>
</g>
</g>

<!-- PANEL D -->
<g id="panelD">
<text class="t L" x="750" y="457">D</text>
<text class="t n c" x="1213" y="473">Co-culture</text>
<g id="D-LAG3">
<text class="t n c" x="960" y="528">LAG3</text>
<text class="t n c" transform="translate(818,675) rotate(-90)">LAG3 (Normalized MFI)</text>
<path class="ax" d="M894,570 V772 M881,572 H894 M881,638 H894 M881,704 H894 M881,770 H894 M892,770 H1027 M920,770 V787 M959.5,770 V787 M998.5,770 V787"/>
<text class="t tk" x="876" y="580">1.5</text><text class="t tk" x="876" y="646">1.0</text><text class="t tk" x="876" y="712">0.5</text><text class="t tk" x="876" y="778">0.0</text>
<rect class="bar" x="908" y="742" width="24" height="28"/><rect class="bar" x="948" y="638" width="23" height="132"/><rect class="bar" x="987" y="715" width="23" height="55"/>
<path class="er" d="M920,742 V723 M915,723 H925 M998.5,715 V677 M993,677 H1004"/>
<path class="sg" d="M908,598 H959 M962,598 H1011"/>
<text class="t c" x="933" y="576" font-size="22">**</text><text class="t c" x="987" y="576" font-size="22">*</text>
<g class="r"><circle cx="951" cy="638" r="2.3"/><circle cx="956" cy="638" r="2.3"/><circle cx="962" cy="638" r="2.3"/><circle cx="967" cy="638" r="2.3"/></g>
<g class="k"><circle cx="920" cy="719" r="2.3"/><circle cx="920" cy="734" r="2.3"/><circle cx="920" cy="752" r="2.3"/><circle cx="920" cy="760" r="2.3"/></g>
<g class="b"><circle cx="999" cy="678" r="2.3"/><circle cx="999" cy="686" r="2.3"/><circle cx="999" cy="730" r="2.3"/><circle cx="999" cy="757" r="2.3"/></g>
<text class="t xl" transform="translate(927,799) rotate(-45)">T cellsonly</text>
<text class="t xl" transform="translate(966,799) rotate(-45)">MAM<tspan font-size="16" dy="-10">HD</tspan></text>
<text class="t xl" transform="translate(1005,799) rotate(-45)">MAM<tspan font-size="16" dy="-10">LD</tspan></text>
</g>
<g id="D-PD1">
<text class="t n c" x="1223" y="528">PD-1</text>
<text class="t n c" transform="translate(1079,675) rotate(-90)">PD-1 (Normalized MFI)</text>
<path class="ax" d="M1157,570 V772 M1144,572 H1157 M1144,622 H1157 M1144,672 H1157 M1144,721 H1157 M1144,770 H1157 M1155,770 H1291 M1183.5,770 V787 M1223,770 V787 M1262.5,770 V787"/>
<text class="t tk" x="1139" y="580">1.2</text><text class="t tk" x="1139" y="630">1.0</text><text class="t tk" x="1139" y="680">0.8</text><text class="t tk" x="1139" y="729">0.6</text><text class="t tk" x="1139" y="778">0.4</text>
<rect class="bar" x="1172" y="716" width="23" height="54"/><rect class="bar" x="1211" y="622" width="24" height="148"/><rect class="bar" x="1251" y="662" width="23" height="108"/>
<path class="er" d="M1183.5,716 V696 M1178,696 H1189 M1262.5,662 V622 M1257,622 H1268"/>
<path class="sgb" d="M1169,582 H1226"/>
<text class="t c" x="1198" y="560" font-size="22">**</text>
<g class="r"><circle cx="1214" cy="622" r="2.3"/><circle cx="1219" cy="622" r="2.3"/><circle cx="1225" cy="622" r="2.3"/><circle cx="1231" cy="622" r="2.3"/></g>
<g class="k"><circle cx="1183" cy="689" r="2.3"/><circle cx="1183" cy="720" r="2.3"/><circle cx="1183" cy="734" r="2.3"/></g>
<g class="b"><circle cx="1262" cy="624" r="2.3"/><circle cx="1262" cy="632" r="2.3"/><circle cx="1262" cy="683" r="2.3"/><circle cx="1262" cy="702" r="2.3"/></g>
<text class="t xl" transform="translate(1190,799) rotate(-45)">T cellsonly</text>
<text class="t xl" transform="translate(1230,799) rotate(-45)">MAM<tspan font-size="16" dy="-10">HD</tspan></text>
<text class="t xl" transform="translate(1269,799) rotate(-45)">MAM<tspan font-size="16" dy="-10">LD</tspan></text>
</g>
<g id="D-TIM3">
<text class="t n c" x="1505" y="528">TIM3</text>
<text class="t n c" transform="translate(1364,675) rotate(-90)">TIM3 (Normalized MFI)</text>
<path class="ax" d="M1424,570 V772 M1411,572 H1424 M1411,638 H1424 M1411,704 H1424 M1411,770 H1424 M1422,770 H1557 M1464.5,770 V787 M1504,770 V787 M1543,770 V787"/>
<text class="t tk" x="1406" y="580">1.5</text><text class="t tk" x="1406" y="646">1.0</text><text class="t tk" x="1406" y="712">0.5</text><text class="t tk" x="1406" y="778">0.0</text>
<rect class="bar" x="1453" y="718" width="23" height="52"/><rect class="bar" x="1492" y="638" width="24" height="132"/><rect class="bar" x="1531" y="691" width="24" height="79"/>
<path class="er" d="M1464.5,718 V687 M1459,687 H1470 M1543,691 V651 M1538,651 H1548"/>
<path class="sgb" d="M1458,605 H1513"/>
<text class="t c" x="1486" y="585" font-size="22">*</text>
<g class="r"><circle cx="1495" cy="638" r="2.3"/><circle cx="1501" cy="638" r="2.3"/><circle cx="1507" cy="638" r="2.3"/><circle cx="1513" cy="638" r="2.3"/></g>
<g class="k"><circle cx="1464" cy="688" r="2.3"/><circle cx="1464" cy="698" r="2.3"/><circle cx="1464" cy="734" r="2.3"/><circle cx="1464" cy="748" r="2.3"/></g>
<g class="b"><circle cx="1543" cy="648" r="2.3"/><circle cx="1543" cy="666" r="2.3"/><circle cx="1543" cy="717" r="2.3"/><circle cx="1543" cy="729" r="2.3"/></g>
<text class="t xl" transform="translate(1471,799) rotate(-45)">T cellsonly</text>
<text class="t xl" transform="translate(1511,799) rotate(-45)">MAM<tspan font-size="16" dy="-10">HD</tspan></text>
<text class="t xl" transform="translate(1550,799) rotate(-45)">MAM<tspan font-size="16" dy="-10">LD</tspan></text>
</g>
</g>

<!-- PANEL E -->
<g id="panelE">
<text class="t L" x="5" y="1072">E</text>
<text class="t n c" x="228" y="1073">Co-culture</text>
<text class="t n c" transform="translate(81,1219) rotate(-90)">Proliferating cells (%)</text>
<path class="ax" d="M162,1116 V1317 M149,1118 H162 M149,1158 H162 M149,1197 H162 M149,1237 H162 M149,1276 H162 M149,1315 H162 M160,1315 H295 M188,1315 V1333 M228,1315 V1333 M267,1315 V1333"/>
<text class="t tk" x="144" y="1126">100</text><text class="t tk" x="144" y="1166">80</text><text class="t tk" x="144" y="1205">60</text><text class="t tk" x="144" y="1245">40</text><text class="t tk" x="144" y="1284">20</text><text class="t tk" x="144" y="1323">0</text>
<rect class="bar" x="176" y="1230" width="24" height="85"/><rect class="bar" x="216" y="1169" width="24" height="146"/><rect class="bar" x="255" y="1188" width="24" height="127"/>
<path class="er" d="M188,1230 V1209 M183,1209 H193 M228,1169 V1155 M223,1155 H233 M267,1188 V1153 M262,1153 H272"/>
<path class="sg" d="M187,1131 H225"/>
<text class="t c" x="208" y="1117" font-size="22">*</text>
<g class="k"><circle cx="188" cy="1201" r="2.5"/><circle cx="188" cy="1226" r="2.5"/><circle cx="183" cy="1244" r="2.5"/><circle cx="193" cy="1242" r="2.5"/></g>
<g class="r"><circle cx="222" cy="1162" r="2.5"/><circle cx="231" cy="1159" r="2.5"/><circle cx="231" cy="1166" r="2.5"/><circle cx="228" cy="1187" r="2.5"/></g>
<g class="b"><circle cx="267" cy="1154" r="2.5"/><circle cx="267" cy="1169" r="2.5"/><circle cx="267" cy="1194" r="2.5"/><circle cx="267" cy="1232" r="2.5"/></g>
<text class="t xl" transform="translate(195,1345) rotate(-45)">T cellsonly</text>
<text class="t xl" transform="translate(235,1345) rotate(-45)">MAM<tspan font-size="16" dy="-10">HD</tspan></text>
<text class="t xl" transform="translate(274,1345) rotate(-45)">MAM<tspan font-size="16" dy="-10">LD</tspan></text>
</g>

<!-- PANEL F -->
<g id="panelF">
<text class="t L" x="375" y="1072">F</text>
<text class="t n c" x="882" y="1024">Conditioned media</text>
<g id="F-LAG3">
<text class="t n c" x="594" y="1078">LAG3</text>
<text class="t n c" transform="translate(454,1220) rotate(-90)">LAG3 (Normalized MFI)</text>
<path class="ax" d="M528,1120 V1321 M515,1122 H528 M515,1172 H528 M515,1221 H528 M515,1270 H528 M515,1319 H528 M526,1319 H663 M556,1319 V1336 M595,1319 V1336 M635,1319 V1336"/>
<text class="t tk" x="510" y="1130">2.0</text><text class="t tk" x="510" y="1180">1.5</text><text class="t tk" x="510" y="1229">1.0</text><text class="t tk" x="510" y="1278">0.5</text><text class="t tk" x="510" y="1327">0.0</text>
<rect class="bar" x="544" y="1249" width="24" height="70"/><rect class="bar" x="583" y="1221" width="24" height="98"/><rect class="bar" x="623" y="1223" width="24" height="96"/>
<path class="er" d="M556,1249 V1212 M551,1212 H561 M635,1223 V1150 M630,1150 H640"/>
<path class="sg" d="M549,1139 H587 M601,1139 H639"/>
<text class="t ns" x="571" y="1131">ns</text><text class="t ns" x="623" y="1131">ns</text>
<g class="k"><circle cx="556" cy="1197" r="2.5"/><circle cx="553" cy="1253" r="2.5"/><circle cx="559" cy="1257" r="2.5"/><circle cx="556" cy="1281" r="2.5"/></g>
<g class="r"><circle cx="586" cy="1221" r="2.5"/><circle cx="592" cy="1221" r="2.5"/><circle cx="598" cy="1221" r="2.5"/><circle cx="604" cy="1221" r="2.5"/></g>
<g class="b"><circle cx="635" cy="1148" r="2.5"/><circle cx="635" cy="1177" r="2.5"/><circle cx="635" cy="1260" r="2.5"/><circle cx="635" cy="1301" r="2.5"/></g>
<text class="t xl" transform="translate(563,1348) rotate(-45)">T cellsonly</text>
<text class="t xl" transform="translate(602,1348) rotate(-45)">MAM<tspan font-size="16" dy="-10">HD</tspan></text>
<text class="t xl" transform="translate(642,1348) rotate(-45)">MAM<tspan font-size="16" dy="-10">LD</tspan></text>
</g>
<g id="F-PD1">
<text class="t n c" x="858" y="1078">PD-1</text>
<text class="t n c" transform="translate(720,1220) rotate(-90)">PD-1 (Normalized MFI)</text>
<path class="ax" d="M790,1119 V1321 M777,1121 H790 M777,1171 H790 M777,1221 H790 M777,1270 H790 M777,1319 H790 M788,1319 H926 M819,1319 V1336 M858,1319 V1336 M898,1319 V1336"/>
<text class="t tk" x="772" y="1129">2.0</text><text class="t tk" x="772" y="1179">1.5</text><text class="t tk" x="772" y="1229">1.0</text><text class="t tk" x="772" y="1278">0.5</text><text class="t tk" x="772" y="1327">0.0</text>
<rect class="bar" x="807" y="1223" width="24" height="96"/><rect class="bar" x="846" y="1221" width="24" height="98"/><rect class="bar" x="886" y="1236" width="24" height="83"/>
<path class="er" d="M819,1223 V1194 M814,1194 H824 M898,1236 V1178 M893,1178 H903"/>
<path class="sg" d="M813,1154 H850 M864,1154 H902"/>
<text class="t ns" x="834" y="1146">ns</text><text class="t ns" x="886" y="1146">ns</text>
<g class="k"><circle cx="819" cy="1194" r="2.5"/><circle cx="819" cy="1212" r="2.5"/><circle cx="819" cy="1219" r="2.5"/><circle cx="819" cy="1257" r="2.5"/></g>
<g class="r"><circle cx="849" cy="1221" r="2.5"/><circle cx="855" cy="1221" r="2.5"/><circle cx="861" cy="1221" r="2.5"/><circle cx="867" cy="1221" r="2.5"/></g>
<g class="b"><circle cx="898" cy="1176" r="2.5"/><circle cx="898" cy="1218" r="2.5"/><circle cx="898" cy="1233" r="2.5"/><circle cx="898" cy="1311" r="2.5"/></g>
<text class="t xl" transform="translate(826,1348) rotate(-45)">T cellsonly</text>
<text class="t xl" transform="translate(865,1348) rotate(-45)">MAM<tspan font-size="16" dy="-10">HD</tspan></text>
<text class="t xl" transform="translate(905,1348) rotate(-45)">MAM<tspan font-size="16" dy="-10">LD</tspan></text>
</g>
<g id="F-TIM3">
<text class="t n c" x="1132" y="1074">TIM3</text>
<text class="t n c" transform="translate(990,1216) rotate(-90)">TIM3 (Normalized MFI)</text>
<path class="ax" d="M1065,1115 V1317 M1052,1117 H1065 M1052,1167 H1065 M1052,1217 H1065 M1052,1265 H1065 M1052,1315 H1065 M1063,1315 H1199 M1091,1315 V1333 M1131,1315 V1333 M1170,1315 V1333"/>
<text class="t tk" x="1047" y="1125">2.0</text><text class="t tk" x="1047" y="1175">1.5</text><text class="t tk" x="1047" y="1225">1.0</text><text class="t tk" x="1047" y="1273">0.5</text><text class="t tk" x="1047" y="1323">0.0</text>
<rect class="bar" x="1079" y="1214" width="24" height="101"/><rect class="bar" x="1119" y="1217" width="24" height="98"/><rect class="bar" x="1158" y="1210" width="24" height="105"/>
<path class="er" d="M1091,1214 V1160 M1086,1160 H1096 M1170,1210 V1129 M1165,1129 H1175"/>
<path class="sg" d="M1085,1114 H1123 M1137,1114 H1175"/>
<text class="t ns" x="1107" y="1106">ns</text><text class="t ns" x="1158" y="1106">ns</text>
<g class="k"><circle cx="1091" cy="1134" r="2.5"/><circle cx="1091" cy="1231" r="2.5"/><circle cx="1091" cy="1239" r="2.5"/><circle cx="1091" cy="1249" r="2.5"/></g>
<g class="r"><circle cx="1122" cy="1217" r="2.5"/><circle cx="1128" cy="1217" r="2.5"/><circle cx="1134" cy="1217" r="2.5"/><circle cx="1140" cy="1217" r="2.5"/></g>
<g class="b"><circle cx="1170" cy="1129" r="2.5"/><circle cx="1170" cy="1157" r="2.5"/><circle cx="1170" cy="1251" r="2.5"/><circle cx="1170" cy="1300" r="2.5"/></g>
<text class="t xl" transform="translate(1098,1345) rotate(-45)">T cellsonly</text>
<text class="t xl" transform="translate(1138,1345) rotate(-45)">MAM<tspan font-size="16" dy="-10">HD</tspan></text>
<text class="t xl" transform="translate(1177,1345) rotate(-45)">MAM<tspan font-size="16" dy="-10">LD</tspan></text>
</g>
<g id="F-prolif">
<text class="t n c" x="1432" y="1074">Conditioned media</text>
<text class="t n c" transform="translate(1297,1216) rotate(-90)">Proliferating cells (%)</text>
<path class="ax" d="M1367,1115 V1317 M1354,1117 H1367 M1354,1167 H1367 M1354,1217 H1367 M1354,1265 H1367 M1354,1315 H1367 M1365,1315 H1500 M1393,1315 V1333 M1433,1315 V1333 M1472,1315 V1333"/>
<text class="t tk" x="1349" y="1125">80</text><text class="t tk" x="1349" y="1175">60</text><text class="t tk" x="1349" y="1225">40</text><text class="t tk" x="1349" y="1273">20</text><text class="t tk" x="1349" y="1323">0</text>
<rect class="bar" x="1381" y="1211" width="24" height="104"/><rect class="bar" x="1421" y="1207" width="24" height="108"/><rect class="bar" x="1460" y="1198" width="24" height="117"/>
<path class="er" d="M1393,1211 V1192 M1388,1192 H1398 M1433,1207 V1163 M1428,1163 H1438 M1472,1198 V1167 M1467,1167 H1477"/>
<path class="sg" d="M1387,1149 H1425 M1439,1149 H1476"/>
<text class="t ns" x="1409" y="1140">ns</text><text class="t ns" x="1460" y="1140">ns</text>
<g class="k"><circle cx="1388" cy="1194" r="2.5"/><circle cx="1398" cy="1193" r="2.5"/><circle cx="1388" cy="1226" r="2.5"/><circle cx="1397" cy="1224" r="2.5"/></g>
<g class="r"><circle cx="1433" cy="1171" r="2.5"/><circle cx="1433" cy="1188" r="2.5"/><circle cx="1433" cy="1195" r="2.5"/><circle cx="1433" cy="1269" r="2.5"/></g>
<g class="b"><circle cx="1472" cy="1162" r="2.5"/><circle cx="1472" cy="1181" r="2.5"/><circle cx="1468" cy="1221" r="2.5"/><circle cx="1476" cy="1219" r="2.5"/></g>
<text class="t xl" transform="translate(1400,1345) rotate(-45)">T cellsonly</text>
<text class="t xl" transform="translate(1440,1345) rotate(-45)">MAM<tspan font-size="16" dy="-10">HD</tspan></text>
<text class="t xl" transform="translate(1479,1345) rotate(-45)">MAM<tspan font-size="16" dy="-10">LD</tspan></text>
</g>
</g>
</g>
</svg>
